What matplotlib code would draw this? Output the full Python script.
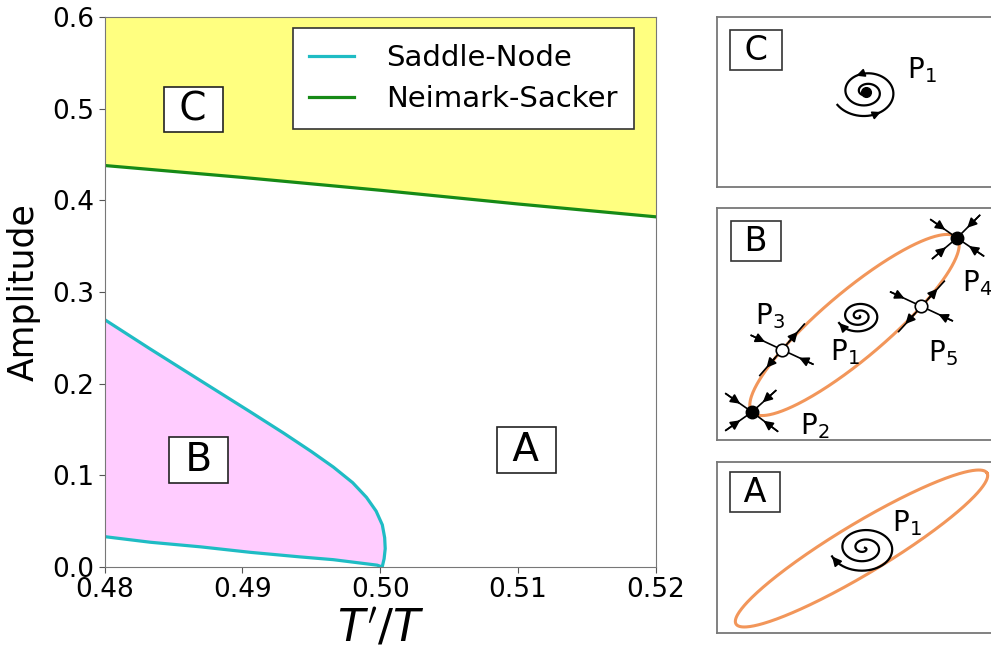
import numpy as np
import matplotlib
matplotlib.use("Agg")
import matplotlib.pyplot as plt

# bifurcation curves
sn_x = [0.4801, 0.4833, 0.4870, 0.4906, 0.4930, 0.4950, 0.4966, 0.4980, 0.4990,
        0.4997, 0.50015, 0.50032, 0.50036, 0.50028, 0.50014,
        0.49978, 0.49659, 0.49420, 0.49058, 0.48696, 0.48333, 0.48007]
sn_amp = [0.269, 0.238, 0.203, 0.169, 0.146, 0.126, 0.109, 0.092, 0.076,
          0.061, 0.046, 0.032, 0.020, 0.009, 0.000,
          0.002, 0.008, 0.011, 0.016, 0.022, 0.027, 0.033]
ns_x = [0.48, 0.49, 0.50, 0.51, 0.52]
ns_amp = [0.438, 0.425, 0.411, 0.396, 0.382]

xticks = [0.48, 0.49, 0.50, 0.51, 0.52]
xticklabels = ["0.48", "0.49", "0.50", "0.51", "0.52"]
yticks = [0.0, 0.1, 0.2, 0.3, 0.4, 0.5, 0.6]
yticklabels = ["0.0", "0.1", "0.2", "0.3", "0.4", "0.5", "0.6"]

# region labels (x, amplitude)
regions = {"C": (0.48645, 0.499), "B": (0.48681, 0.117), "A": (0.51058, 0.128)}

SN_COL = "#1fbcc4"
NS_COL = "#168a16"
ORANGE = "#f2965a"

W, H = 991, 650
fig = plt.figure(figsize=(W / 100, H / 100), dpi=100)

# ---------- main bifurcation diagram ----------
ax = fig.add_axes([104.5 / W, (H - 567) / H, (656 - 104.5) / W, (567 - 17) / H])
ax.fill_between(ns_x, ns_amp, 0.6, color="#ffff80", lw=0)
ax.fill(sn_x, sn_amp, color="#ffccff", lw=0)
ax.plot(sn_x, sn_amp, color=SN_COL, lw=2.3, label="Saddle-Node")
ax.plot(ns_x, ns_amp, color=NS_COL, lw=2.3, label="Neimark-Sacker")
ax.set_xlim(0.48, 0.52)
ax.set_ylim(0.0, 0.6)
ax.set_xticks(xticks)
ax.set_xticklabels(xticklabels)
ax.set_yticks(yticks)
ax.set_yticklabels(yticklabels)
ax.tick_params(labelsize=19, length=4, color="#555555")
for s in ax.spines.values():
    s.set_color("#777777")
ax.set_xlabel(r"$T'/T$", fontsize=32, labelpad=3)
ax.set_ylabel("Amplitude", fontsize=25, labelpad=8)
leg = ax.legend(loc="upper right", bbox_to_anchor=(0.960, 0.98), borderaxespad=0,
                fontsize=21, handlelength=1.55, handletextpad=1.1, fancybox=False,
                framealpha=1, edgecolor="#333333", borderpad=0.55, labelspacing=0.45)
leg.get_frame().set_linewidth(1.2)
for k, (x, y) in regions.items():
    ax.text(x, y, " %s " % k, fontsize=28, ha="center", va="center",
            bbox=dict(boxstyle="square,pad=0.1", fc="white", ec="#222222", lw=1.2))


# ---------- phase portraits (pixel coordinates, y down) ----------
def panel(top, bottom):
    a = fig.add_axes([717 / W, (H - bottom) / H, (1000 - 717) / W, (bottom - top) / H])
    a.set_xlim(717, 1000)
    a.set_ylim(bottom, top)
    a.set_xticks([])
    a.set_yticks([])
    for s in a.spines.values():
        s.set_color("#777777")
        s.set_linewidth(1.3)
    return a


def unit(ang):
    r = np.deg2rad(ang)
    return np.array([np.cos(r), -np.sin(r)])


def arrow(a, p0, p1, ms=13):
    a.annotate("", xy=p1, xytext=p0,
               arrowprops=dict(arrowstyle="-|>", color="k", lw=1.2,
                               mutation_scale=ms, shrinkA=0, shrinkB=0))


def spiral(a, c, r0, r1, th_end, turns, sy=0.8, inward=False):
    # outward clockwise spiral ending at th_end (deg); inward flips direction
    th = np.deg2rad(th_end) + np.linspace(2 * np.pi * turns, 0, 300)
    r = np.linspace(r0, r1, 300)
    x = c[0] + r * np.cos(th)
    y = c[1] - sy * r * np.sin(th)
    if inward:
        x, y = x[::-1], y[::-1]
    a.plot(x, y, color="k", lw=1.6)
    return x, y


def ellipse(a, p_start, p_end, b, n=400):
    c = (np.array(p_start) + np.array(p_end)) / 2
    d = np.array(p_end) - np.array(p_start)
    semi = np.hypot(*d) / 2
    phi = np.arctan2(-d[1], d[0])
    t = np.linspace(0, 2 * np.pi, n)
    u, v = semi * np.cos(t), b * np.sin(t)
    x = c[0] + u * np.cos(phi) - v * np.sin(phi)
    y = c[1] - (u * np.sin(phi) + v * np.cos(phi))
    a.plot(x, y, color=ORANGE, lw=2.2)
    return c, semi, phi


def on_ellipse(c, semi, b, phi, t_deg):
    t = np.deg2rad(t_deg)
    u, v = semi * np.cos(t), b * np.sin(t)
    du, dv = -semi * np.sin(t), b * np.cos(t)
    p = np.array([c[0] + u * np.cos(phi) - v * np.sin(phi),
                  c[1] - (u * np.sin(phi) + v * np.cos(phi))])
    tang = np.degrees(np.arctan2(du * np.sin(phi) + dv * np.cos(phi),
                                 du * np.cos(phi) - dv * np.sin(phi)))
    return p, tang


def node(a, p, angles, L=32):
    for ang in angles:
        d = unit(ang)
        a.plot([p[0], p[0] + L * d[0]], [p[1], p[1] + L * d[1]], color="k", lw=1.2)
        arrow(a, p + L * d, p + 0.45 * L * d, ms=14)
    a.plot(*p, "o", color="k", ms=9, zorder=5)


def saddle(a, p, tang, stab, L=34):
    for sgn in (1, -1):
        d = sgn * unit(tang)
        a.plot([p[0], p[0] + L * d[0]], [p[1], p[1] + L * d[1]], color="k", lw=1.2)
        arrow(a, p + 0.3 * L * d, p + 0.7 * L * d, ms=14)
        d = sgn * unit(stab)
        a.plot([p[0], p[0] + L * d[0]], [p[1], p[1] + L * d[1]], color="k", lw=1.2)
        arrow(a, p + L * d, p + 0.55 * L * d, ms=14)
    a.plot(*p, "o", mfc="white", mec="k", mew=1.2, ms=9, zorder=5)


def box_label(a, x, y, s):
    a.text(x, y, " %s " % s, fontsize=24, ha="center", va="center",
           bbox=dict(boxstyle="square,pad=0.1", fc="white", ec="#333333", lw=1.2))


def plabel(a, x, y, i):
    a.text(x, y, r"$\mathrm{P}_{%d}$" % i, fontsize=20, ha="center", va="center")


# panel C: stable focus only
axC = panel(17, 187)
box_label(axC, 756, 50, "C")
x, y = spiral(axC, (866, 92), 3, 33, 210, 2.2, sy=0.78, inward=True)
n = len(x)
for i in (int(n * 0.1), int(n * 0.32)):
    arrow(axC, (x[i], y[i]), (x[i + 4], y[i + 4]), ms=12)
axC.plot(866, 92, "o", color="k", ms=7)
plabel(axC, 922, 70, 1)

# panel B: five fixed points on the invariant curve
axB = panel(208, 440)
box_label(axB, 756, 241, "B")
P2, P4 = (752, 412), (957, 238)
bB = 33
c, semi, phi = ellipse(axB, P2, P4, bB)
P3, t3 = on_ellipse(c, semi, bB, phi, 122)
P5, t5 = on_ellipse(c, semi, bB, phi, 298)
node(axB, np.array(P2, float), [145, 42, 215, -37])
node(axB, np.array(P4, float), [145, 45, 220, -34])
saddle(axB, P3, t3, -25)
saddle(axB, P5, t5, -25)
x, y = spiral(axB, (859, 316), 1, 22, 205, 2.4, sy=0.75)
arrow(axB, (x[-6], y[-6]), (x[-1], y[-1]), ms=13)
plabel(axB, 770, 316, 3)
plabel(axB, 845, 352, 1)
plabel(axB, 943, 353, 5)
plabel(axB, 977, 283, 4)
plabel(axB, 815, 426, 2)

# panel A: single invariant curve
axA = panel(462, 633)
box_label(axA, 755, 492, "A")
ellipse(axA, (736, 624), (987, 473), 25)
x, y = spiral(axA, (864, 548), 1, 34, 200, 2.5, sy=0.72)
arrow(axA, (x[-6], y[-6]), (x[-1], y[-1]), ms=14)
plabel(axA, 907, 523, 1)

fig.savefig("out.png", dpi=100)
